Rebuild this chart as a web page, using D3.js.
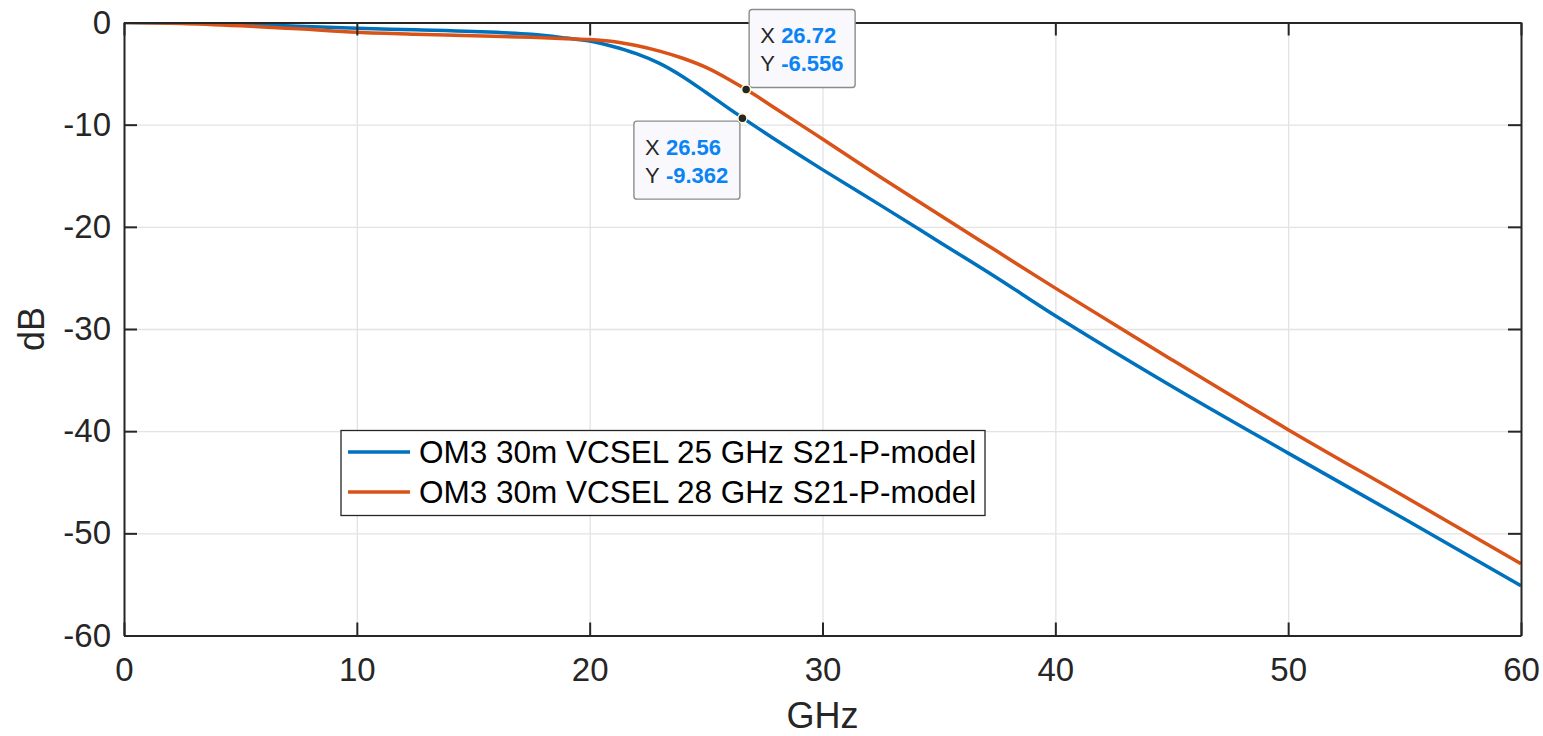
<html>
<head>
<meta charset="utf-8">
<script src="https://cdn.jsdelivr.net/npm/d3@7"></script>
<style>
  body { margin: 0; background: #fff; }
  text { font-family: "Liberation Sans", Arial, Helvetica, sans-serif; fill: #262626; }
  .grid line { stroke: #e3e3e3; stroke-width: 1.3; }
  .grid .domain { display: none; }
  .axis .domain { stroke: #262626; stroke-width: 2; }
  .axis line { stroke: #262626; stroke-width: 2; }
</style>
</head>
<body>
<svg width="1543" height="736"></svg>
<script>
// frequency points (GHz)
var freq = [0, 2.5, 5, 7.5, 10, 12.5, 15, 17.5, 19, 20, 21, 22, 23, 24, 25, 26, 27, 28, 30, 32.5, 35, 37.5, 40, 45, 50, 55, 60];
// S21 response (dB), 25 GHz VCSEL
var s21_25 = [0, -0.05, -0.18, -0.37, -0.57, -0.72, -0.88, -1.15, -1.52, -1.82, -2.35, -3.05, -4.0, -5.3, -6.85, -8.45, -10.0, -11.5, -14.4, -17.9, -21.45, -25.0, -28.7, -35.6, -42.15, -48.6, -55.13];
// S21 response (dB), 28 GHz VCSEL
var s21_28 = [0, -0.09, -0.32, -0.62, -0.95, -1.15, -1.3, -1.45, -1.58, -1.66, -1.85, -2.25, -2.8, -3.5, -4.4, -5.6, -6.95, -8.45, -11.4, -15.15, -18.8, -22.4, -26.0, -33.0, -39.85, -46.4, -52.98];

var seriesNames = ["OM3 30m VCSEL 25 GHz S21-P-model", "OM3 30m VCSEL 28 GHz S21-P-model"];
var seriesColors = ["#0072BD", "#D95319"];

// data tips
var tipX = [26.56, 26.72];
var tipY = [-9.362, -6.556];

var xTicks = [0, 10, 20, 30, 40, 50, 60];
var yTicks = [0, -10, -20, -30, -40, -50, -60];

var svg = d3.select("svg");
var pLeft = 124, pTop = 22.5, pRight = 1521, pBottom = 635.5;

var x = d3.scaleLinear().domain([0, 60]).range([pLeft, pRight]);
var y = d3.scaleLinear().domain([-60, 0]).range([pBottom, pTop]);

// grid
svg.append("g").attr("class", "grid")
  .attr("transform", "translate(0," + pBottom + ")")
  .call(d3.axisBottom(x).tickValues(xTicks).tickSize(-(pBottom - pTop)).tickFormat(""));
svg.append("g").attr("class", "grid")
  .attr("transform", "translate(" + pLeft + ",0)")
  .call(d3.axisLeft(y).tickValues(yTicks).tickSize(-(pRight - pLeft)).tickFormat(""));

// curves
svg.append("clipPath").attr("id", "clip")
  .append("rect").attr("x", pLeft).attr("y", pTop).attr("width", pRight - pLeft).attr("height", pBottom - pTop);

var line = d3.line().curve(d3.curveCatmullRom.alpha(0.5));
[s21_25, s21_28].forEach(function(vals, i) {
  svg.append("path")
    .attr("clip-path", "url(#clip)")
    .attr("fill", "none")
    .attr("stroke", seriesColors[i])
    .attr("stroke-width", 3.5)
    .attr("d", line(freq.map(function(f, j) { return [x(f), y(vals[j])]; })));
});

// axes, ticks pointing inward on all four sides
var plain = function(d) { return String(d); };
svg.append("g").attr("class", "axis")
  .attr("transform", "translate(0," + pBottom + ")")
  .call(d3.axisBottom(x).tickValues(xTicks).tickFormat(plain).tickSizeInner(-13).tickSizeOuter(0).tickPadding(22))
  .selectAll("text").style("font-size", "33px");
svg.append("g").attr("class", "axis")
  .attr("transform", "translate(" + pLeft + ",0)")
  .call(d3.axisLeft(y).tickValues(yTicks).tickFormat(plain).tickSizeInner(-13).tickSizeOuter(0).tickPadding(13))
  .selectAll("text").style("font-size", "33px");
svg.append("g").attr("class", "axis")
  .attr("transform", "translate(0," + pTop + ")")
  .call(d3.axisTop(x).tickValues(xTicks).tickSizeInner(-13).tickSizeOuter(0).tickFormat(""));
svg.append("g").attr("class", "axis")
  .attr("transform", "translate(" + pRight + ",0)")
  .call(d3.axisRight(y).tickValues(yTicks).tickSizeInner(-13).tickSizeOuter(0).tickFormat(""));
svg.selectAll(".axis").attr("font-family", null).attr("font-size", null);

// axis labels
svg.append("text")
  .attr("x", (pLeft + pRight) / 2).attr("y", 728)
  .attr("text-anchor", "middle").style("font-size", "36px")
  .text("GHz");
svg.append("text")
  .attr("transform", "translate(44," + (pTop + pBottom) / 2 + ") rotate(-90)")
  .attr("text-anchor", "middle").style("font-size", "36px")
  .text("dB");

// legend
var lg = svg.append("g");
lg.append("rect")
  .attr("x", 341).attr("y", 430.5).attr("width", 644).attr("height", 85)
  .attr("fill", "#fff").attr("stroke", "#262626").attr("stroke-width", 1.3);
seriesNames.forEach(function(name, i) {
  var yy = 452 + i * 40;
  lg.append("line")
    .attr("x1", 348).attr("x2", 410).attr("y1", yy).attr("y2", yy)
    .attr("stroke", seriesColors[i]).attr("stroke-width", 3.5);
  lg.append("text")
    .attr("x", 419).attr("y", yy + 11)
    .style("font-size", "31.5px").style("fill", "#000")
    .text(name);
});

// data tips
var tipGroup = svg.append("g");
tipX.forEach(function(tx, i) {
  var px = x(tx), py = y(tipY[i]);
  var bx, by;
  if (i === 1) { bx = px + 3; by = py - 80; }   // box above right
  else { bx = px - 108.5; by = py + 3; }      // box below left
  var g = tipGroup.append("g");
  g.append("rect")
    .attr("x", bx).attr("y", by).attr("width", 106).attr("height", 78)
    .attr("rx", 3)
    .attr("fill", "#f9f9fd").attr("stroke", "#8c8c8c").attr("stroke-width", 1.4);
  g.append("text").attr("x", bx + 11).attr("y", by + 34)
    .style("font-size", "22px").text("X");
  g.append("text").attr("x", bx + 32).attr("y", by + 34)
    .style("font-size", "22px").style("font-weight", "bold").style("fill", "#0a84f5")
    .text(tx.toFixed(2));
  g.append("text").attr("x", bx + 11).attr("y", by + 62)
    .style("font-size", "22px").text("Y");
  g.append("text").attr("x", bx + 32).attr("y", by + 62)
    .style("font-size", "22px").style("font-weight", "bold").style("fill", "#0a84f5")
    .text(tipY[i].toFixed(3));
  g.append("circle")
    .attr("cx", px).attr("cy", py).attr("r", 4.5)
    .attr("fill", "#262626").attr("stroke", "#fffbd0").attr("stroke-width", 1.5);
});
</script>
</body>
</html>
